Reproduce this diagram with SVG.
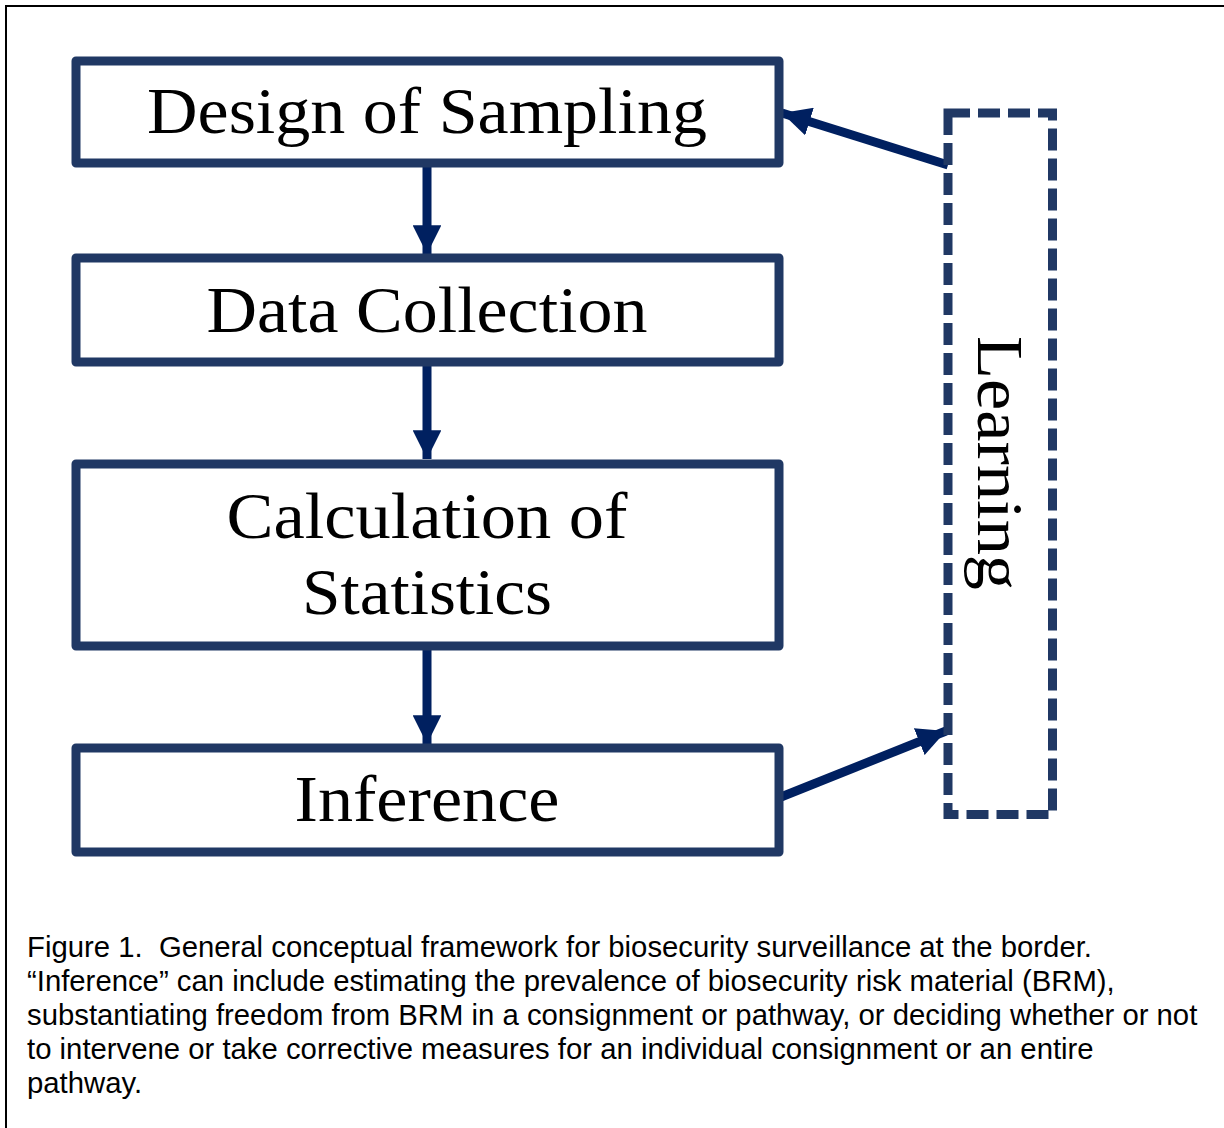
<svg xmlns="http://www.w3.org/2000/svg" width="1224" height="1128" viewBox="0 0 1224 1128">
  <defs>
    <style>
      .box { fill: #ffffff; stroke: #203864; stroke-width: 9; stroke-linejoin: round; }
      .loop { fill: none; stroke: #203864; stroke-width: 9; stroke-dasharray: 22 8; }
      .label { font-family: "Liberation Serif", "Times New Roman", serif; font-size: 66px; fill: #000000; text-anchor: middle; }
      .edge { stroke: #002060; stroke-width: 9; fill: none; }
      .caption { font-family: "Liberation Sans", Arial, sans-serif; font-size: 29.3px; fill: #000000; white-space: pre; }
    </style>
    <marker id="head" viewBox="0 0 10 10" refX="10" refY="5" markerWidth="3.2" markerHeight="3.2" markerUnits="strokeWidth" orient="auto">
      <path d="M0,0 L10,5 L0,10 Z" fill="#002060"/>
    </marker>
  </defs>

  <rect width="1224" height="1128" fill="#ffffff"/>
  <!-- frame: left and top rules -->
  <path d="M6,1128 V6 H1224" fill="none" stroke="#000000" stroke-width="2"/>

  <g id="connectors">
    <line class="edge" x1="427" y1="163" x2="427" y2="254" marker-end="url(#head)"/>
    <line class="edge" x1="427" y1="362" x2="427" y2="459" marker-end="url(#head)"/>
    <line class="edge" x1="427" y1="650" x2="427" y2="744" marker-end="url(#head)"/>
    <line class="edge" x1="948" y1="165" x2="782" y2="113" marker-end="url(#head)"/>
    <line class="edge" x1="781" y1="797" x2="946" y2="731" marker-end="url(#head)"/>
  </g>

  <g id="node-design">
    <rect class="box" x="76" y="61" width="703" height="102"/>
    <text class="label" x="427" y="133" textLength="560" lengthAdjust="spacingAndGlyphs">Design of Sampling</text>
  </g>

  <g id="node-data">
    <rect class="box" x="76" y="258" width="703" height="104"/>
    <text class="label" x="427" y="332" textLength="441" lengthAdjust="spacingAndGlyphs">Data Collection</text>
  </g>

  <g id="node-stats">
    <rect class="box" x="76" y="464" width="703" height="182"/>
    <text class="label" x="427" y="538" textLength="401" lengthAdjust="spacingAndGlyphs">Calculation of</text>
    <text class="label" x="427" y="614" textLength="250" lengthAdjust="spacingAndGlyphs">Statistics</text>
  </g>

  <g id="node-inference">
    <rect class="box" x="76" y="748" width="703" height="104"/>
    <text class="label" x="427" y="821" textLength="265" lengthAdjust="spacingAndGlyphs">Inference</text>
  </g>

  <g id="node-learning">
    <rect class="loop" x="948" y="113" width="104.5" height="701.5"/>
    <text class="label" transform="translate(978,463) rotate(90)" x="0" y="0" textLength="254" lengthAdjust="spacingAndGlyphs">Learning</text>
  </g>

  <g id="caption">
    <text class="caption" x="27" y="957" xml:space="preserve">Figure 1.  General conceptual framework for biosecurity surveillance at the border.</text>
    <text class="caption" x="27" y="991">“Inference” can include estimating the prevalence of biosecurity risk material (BRM),</text>
    <text class="caption" x="27" y="1025">substantiating freedom from BRM in a consignment or pathway, or deciding whether or not</text>
    <text class="caption" x="27" y="1059">to intervene or take corrective measures for an individual consignment or an entire</text>
    <text class="caption" x="27" y="1093">pathway.</text>
  </g>
</svg>
